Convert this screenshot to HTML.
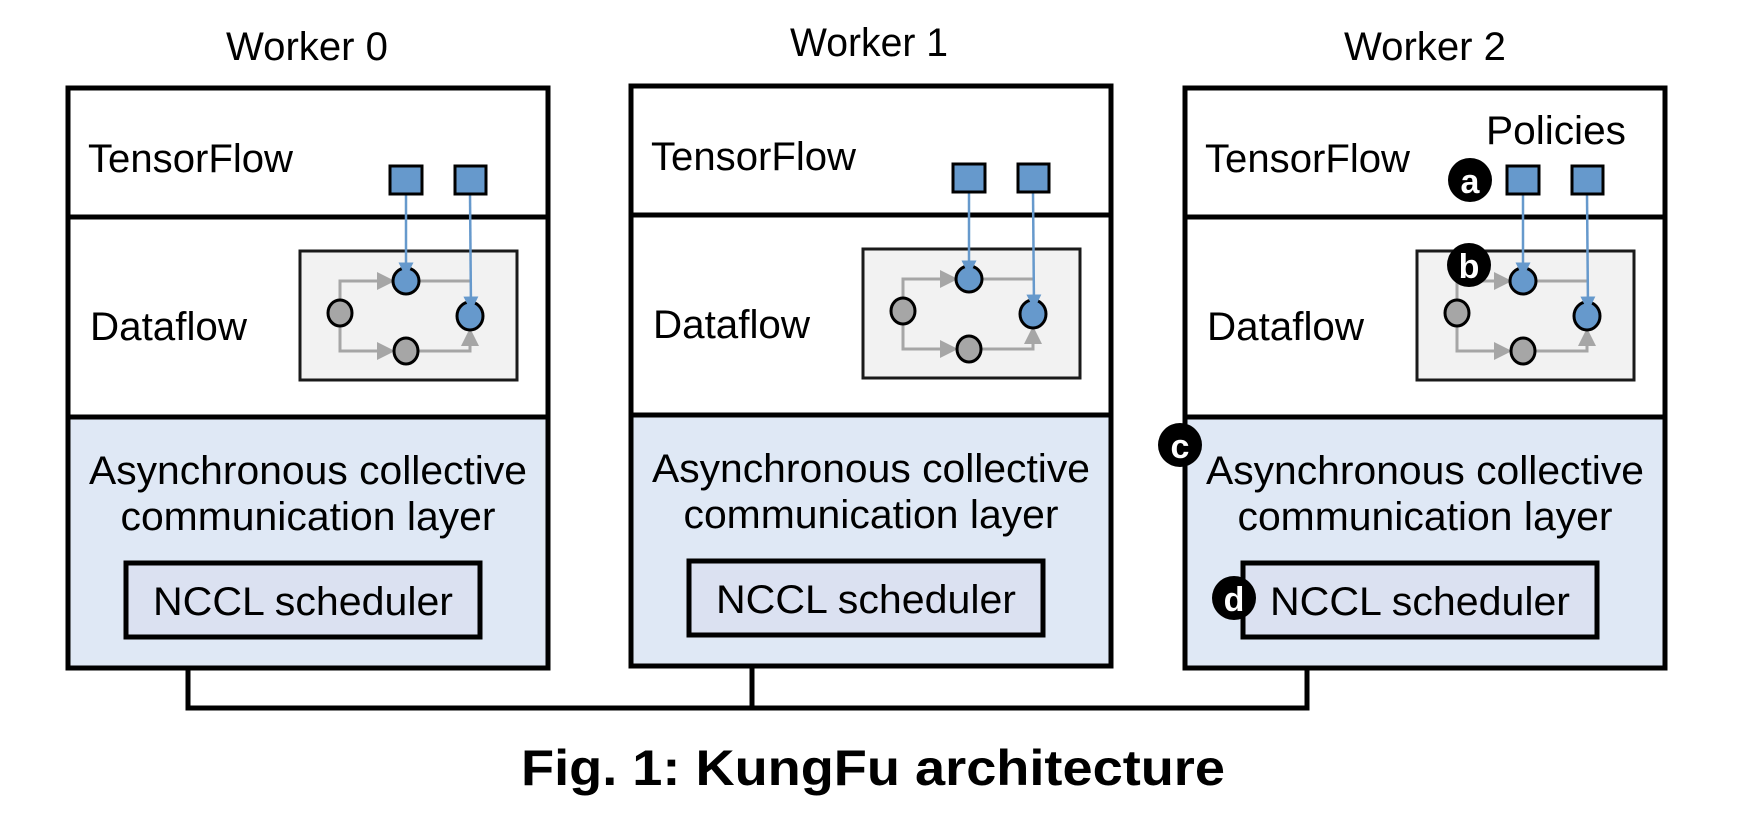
<!DOCTYPE html>
<html><head><meta charset="utf-8"><style>
html,body{margin:0;padding:0;background:#fff;}
svg{display:block;}
text{font-family:"Liberation Sans",Arial,sans-serif;fill:#000;}
</style></head><body>
<svg width="1742" height="820" viewBox="0 0 1742 820" xmlns="http://www.w3.org/2000/svg">
<defs>
<marker id="ga" markerWidth="6" markerHeight="6" refX="5" refY="3" orient="auto" markerUnits="strokeWidth"><path d="M0,0 L6,3 L0,6 z" fill="#a6a6a6"/></marker>
<marker id="ba" markerWidth="6" markerHeight="6" refX="5" refY="3" orient="auto" markerUnits="strokeWidth"><path d="M0,0 L6,3 L0,6 z" fill="#6699cc"/></marker>
<g id="dfw">
  <rect x="0" y="0" width="217" height="129" fill="#f2f2f2" stroke="#1a1a1a" stroke-width="3"/>
  <path d="M40,50 V30 H92" fill="none" stroke="#a6a6a6" stroke-width="3" marker-end="url(#ga)"/>
  <path d="M40,74 V100 H92" fill="none" stroke="#a6a6a6" stroke-width="3" marker-end="url(#ga)"/>
  <path d="M118,100 H170 V80" fill="none" stroke="#a6a6a6" stroke-width="3" marker-end="url(#ga)"/>
  <path d="M118,30 H170" fill="none" stroke="#a6a6a6" stroke-width="3"/>
  <ellipse cx="40" cy="62" rx="12" ry="13" fill="#a6a6a6" stroke="#000" stroke-width="3"/>
  <ellipse cx="106" cy="100" rx="12" ry="13" fill="#a6a6a6" stroke="#000" stroke-width="3"/>
  <ellipse cx="106" cy="30" rx="13" ry="13" fill="#6699cc" stroke="#000" stroke-width="3"/>
  <ellipse cx="170" cy="65" rx="13" ry="14" fill="#6699cc" stroke="#000" stroke-width="3"/>
</g>
<g id="wk">
  <rect x="0" y="129" width="480" height="200" fill="#fff"/>
  <rect x="0" y="329" width="480" height="251" fill="#dfe8f5"/>
  <rect x="0" y="0" width="480" height="580" fill="none" stroke="#000" stroke-width="5"/>
  <line x1="0" y1="129" x2="480" y2="129" stroke="#000" stroke-width="5"/>
  <line x1="0" y1="329" x2="480" y2="329" stroke="#000" stroke-width="5"/>
  <text x="20" y="84" font-size="40" textLength="205" lengthAdjust="spacingAndGlyphs">TensorFlow</text>
  <text x="22" y="252" font-size="40" textLength="157" lengthAdjust="spacingAndGlyphs">Dataflow</text>
  <text x="240" y="396" font-size="40" text-anchor="middle" textLength="438" lengthAdjust="spacingAndGlyphs">Asynchronous collective</text>
  <text x="240" y="442" font-size="40" text-anchor="middle" textLength="375" lengthAdjust="spacingAndGlyphs">communication layer</text>
  <rect x="58" y="475" width="354" height="74" fill="#dbe1f1" stroke="#000" stroke-width="5"/>
  <text x="235" y="527" font-size="40" text-anchor="middle" textLength="300" lengthAdjust="spacingAndGlyphs">NCCL scheduler</text>
  <use href="#dfw" x="232" y="163"/>
  <line x1="338" y1="106" x2="338" y2="187" stroke="#6699cc" stroke-width="2.5" marker-end="url(#ba)"/>
  <line x1="402" y1="106" x2="403" y2="221" stroke="#6699cc" stroke-width="2.5" marker-end="url(#ba)"/>
  <rect x="322" y="78" width="32" height="28" fill="#6699cc" stroke="#000" stroke-width="3"/>
  <rect x="387" y="78" width="31" height="28" fill="#6699cc" stroke="#000" stroke-width="3"/>
</g>
</defs>

<text x="307" y="60" font-size="40" text-anchor="middle" textLength="162" lengthAdjust="spacingAndGlyphs">Worker 0</text>
<text x="869" y="56" font-size="40" text-anchor="middle" textLength="158" lengthAdjust="spacingAndGlyphs">Worker 1</text>
<text x="1425" y="60" font-size="40" text-anchor="middle" textLength="162" lengthAdjust="spacingAndGlyphs">Worker 2</text>

<use href="#wk" x="68" y="88"/>
<use href="#wk" x="631" y="86"/>
<use href="#wk" x="1185" y="88"/>

<text x="1556" y="144" font-size="40" text-anchor="middle" textLength="140" lengthAdjust="spacingAndGlyphs">Policies</text>
<circle cx="1470" cy="180" r="22" fill="#000"/>
<text x="1470" y="193" font-size="34" font-weight="bold" text-anchor="middle" style="fill:#fff">a</text>
<circle cx="1469" cy="265" r="22" fill="#000"/>
<text x="1469" y="278" font-size="34" font-weight="bold" text-anchor="middle" style="fill:#fff">b</text>
<circle cx="1180" cy="445" r="22" fill="#000"/>
<text x="1180" y="458" font-size="34" font-weight="bold" text-anchor="middle" style="fill:#fff">c</text>
<circle cx="1234" cy="598" r="22" fill="#000"/>
<text x="1234" y="611" font-size="34" font-weight="bold" text-anchor="middle" style="fill:#fff">d</text>

<path d="M188,668 V708 H752 V666 M752,708 H1307 V668" fill="none" stroke="#000" stroke-width="5"/>

<text x="873" y="785" font-size="50" font-weight="bold" text-anchor="middle" textLength="704" lengthAdjust="spacingAndGlyphs">Fig. 1: KungFu architecture</text>
</svg>
</body></html>
